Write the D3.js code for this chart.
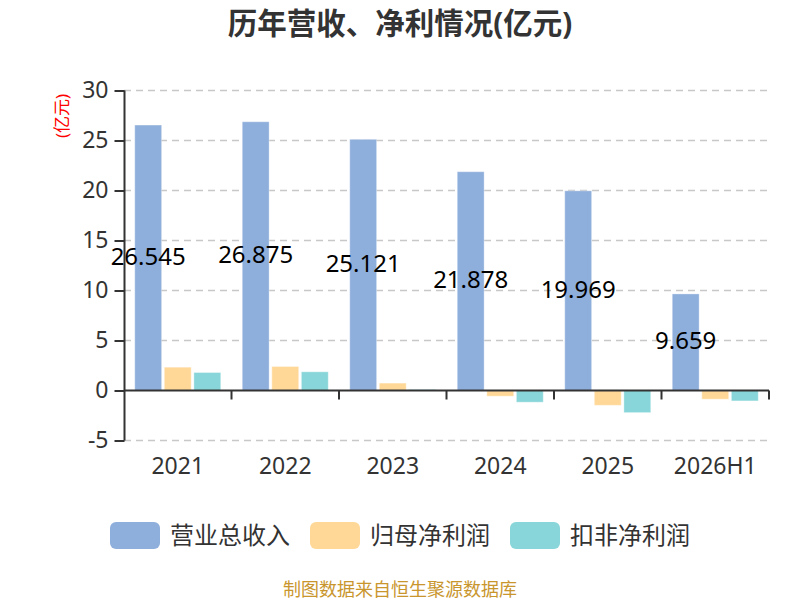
<!DOCTYPE html>
<html><head><meta charset="utf-8">
<script src="https://cdn.jsdelivr.net/npm/d3@7/dist/d3.min.js"></script>
<style>body{margin:0;background:#fff;} svg{display:block;font-family:"Noto Sans","Noto Sans CJK SC",sans-serif;}</style>
</head><body>
<svg id="c" width="800" height="600"></svg>
<script>
const categories = ["2021","2022","2023","2024","2025","2026H1"];
const seriesNames = ["营业总收入","归母净利润","扣非净利润"];
const revenue = [26.545, 26.875, 25.121, 21.878, 19.969, 9.659];
const netProfit = [2.33, 2.40, 0.74, -0.57, -1.48, -0.87];
const deductedProfit = [1.80, 1.87, 0.10, -1.17, -2.21, -1.04];
const yTicks = [-5, 0, 5, 10, 15, 20, 25, 30];
const colors = ["#8eaedb", "#ffd898", "#88d6d9"];
const series = [revenue, netProfit, deductedProfit];

const svg = d3.select("#c");
const x = d3.scaleBand().domain(categories).range([124, 769]).padding(0);
const y = d3.scaleLinear().domain([-5, 30]).range([440.5, 90.5]);

// title
svg.append("text").attr("x", 400).attr("y", 34).attr("text-anchor", "middle")
  .attr("font-size", 29.5).attr("font-weight", "bold").attr("fill", "#333")
  .text("历年营收、净利情况(亿元)");

// y unit label
svg.append("text").attr("transform", "translate(68,116) rotate(-90)")
  .attr("text-anchor", "middle").attr("font-size", 17).attr("fill", "#ff0000")
  .text("(亿元)");

// grid
svg.append("g").selectAll("line").data(yTicks.filter(d => d !== 0)).join("line")
  .attr("x1", 124).attr("x2", 769).attr("y1", d => y(d)).attr("y2", d => y(d))
  .attr("stroke", "#c8c8c8").attr("stroke-width", 1.5).attr("stroke-dasharray", "7,5");

// y axis
const yAxis = d3.axisLeft(y).tickValues(yTicks).tickSize(10).tickPadding(6).tickFormat(d => String(d));
const gy = svg.append("g").attr("transform", "translate(124.5,0)").call(yAxis);
gy.select(".domain").attr("stroke", "#333").attr("stroke-width", 2).attr("d", `M0,${y(-5)}V${y(30)}`);
gy.selectAll(".tick line").attr("stroke", "#333").attr("stroke-width", 2);
gy.selectAll(".tick text").attr("font-size", 23).attr("fill", "#333").attr("font-family", "Noto Sans, sans-serif");

// bars
const bw = x.bandwidth() * 0.25, gap = x.bandwidth() * 0.025;
const pad = (x.bandwidth() - 3 * bw - 2 * gap) / 2;
series.forEach((vals, si) => {
  svg.append("g").selectAll("rect").data(vals).join("rect")
    .attr("x", (d, i) => x(categories[i]) + pad + si * (bw + gap))
    .attr("width", bw)
    .attr("y", d => y(Math.max(0, d)))
    .attr("height", d => Math.abs(y(d) - y(0)))
    .attr("fill", colors[si])
    .attr("stroke", "rgba(255,255,255,0.35)").attr("stroke-width", 1);
});

// x axis
const gx = svg.append("g").attr("transform", `translate(0,${y(0)})`);
gx.append("line").attr("x1", 124).attr("x2", 769).attr("stroke", "#333").attr("stroke-width", 2);
const bounds = categories.map(c => x(c)).slice(1).concat([x.range()[1]]);
gx.selectAll("line.tk").data(bounds).join("line").attr("class", "tk")
  .attr("x1", d => d).attr("x2", d => d).attr("y1", 0).attr("y2", 9)
  .attr("stroke", "#333").attr("stroke-width", 2);
svg.append("g").selectAll("text").data(categories).join("text")
  .attr("x", d => x(d) + x.bandwidth() / 2).attr("y", 474)
  .attr("text-anchor", "middle").attr("font-size", 23).attr("fill", "#333")
  .text(d => d);

// data labels
svg.append("g").selectAll("text").data(revenue).join("text")
  .attr("x", (d, i) => x(categories[i]) + pad + bw / 2)
  .attr("y", d => y(d / 2))
  .attr("dy", "0.3em")
  .attr("text-anchor", "middle").attr("font-size", 24).attr("fill", "#000")
  .text(d => d3.format(".3f")(d));

// legend
const legendX = [110, 310, 510];
const lg = svg.append("g");
seriesNames.forEach((n, i) => {
  lg.append("rect").attr("x", legendX[i]).attr("y", 522).attr("width", 50).attr("height", 27)
    .attr("rx", 6).attr("fill", colors[i]);
  lg.append("text").attr("x", legendX[i] + 60).attr("y", 535.5).attr("dy", "0.35em")
    .attr("font-size", 24).attr("fill", "#333").text(n);
});

// footer
svg.append("text").attr("x", 400).attr("y", 596).attr("text-anchor", "middle")
  .attr("font-size", 18).attr("fill", "#c9962e").text("制图数据来自恒生聚源数据库");
</script>
</body></html>
